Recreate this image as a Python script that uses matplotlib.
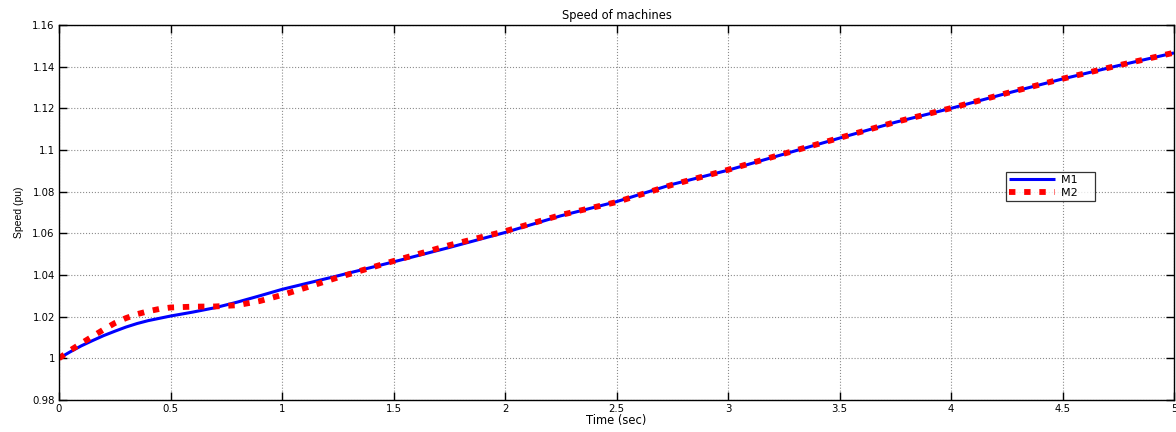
import matplotlib
matplotlib.use("Agg")
import matplotlib.pyplot as plt

# Data
t_m1 = [0.0, 0.05, 0.1, 0.15, 0.2, 0.25, 0.3, 0.35, 0.4, 0.5, 0.6, 0.7, 0.8, 0.9, 1.0,
        1.25, 1.5, 1.75, 2.0, 2.25, 2.5, 2.75, 3.0, 3.25, 3.5, 3.75, 4.0, 4.25, 4.5, 4.75, 5.0]
v_m1 = [1.0000, 1.0031, 1.0060, 1.0085, 1.0109, 1.0130, 1.0150, 1.0167, 1.0181, 1.0203,
        1.0222, 1.0243, 1.0270, 1.0300, 1.0331, 1.0396, 1.0463, 1.0532, 1.0604, 1.0684,
        1.0752, 1.0835, 1.0903, 1.0980, 1.1057, 1.1133, 1.1200, 1.1272, 1.1341, 1.1405, 1.1466]

t_m2 = [0.0, 0.05, 0.1, 0.15, 0.2, 0.25, 0.3, 0.35, 0.4, 0.45, 0.5, 0.6, 0.7, 0.8, 0.9, 1.0,
        1.1, 1.25, 1.5, 1.75, 2.0, 2.25, 2.5, 2.75, 3.0, 3.25, 3.5, 3.75, 4.0, 4.25, 4.5,
        4.75, 5.0]
v_m2 = [1.0000, 1.0038, 1.0072, 1.0105, 1.0138, 1.0169, 1.0193, 1.0212, 1.0226, 1.0237,
        1.0244, 1.0248, 1.0249, 1.0255, 1.0275, 1.0304, 1.0337, 1.0388, 1.0467, 1.0543,
        1.0610, 1.0688, 1.0750, 1.0833, 1.0905, 1.0982, 1.1058, 1.1134, 1.1201, 1.1273,
        1.1342, 1.1406, 1.1467]

x_ticks = [0, 0.5, 1, 1.5, 2, 2.5, 3, 3.5, 4, 4.5, 5]
x_tick_labels = ["0", "0.5", "1", "1.5", "2", "2.5", "3", "3.5", "4", "4.5", "5"]
y_ticks = [0.98, 1.0, 1.02, 1.04, 1.06, 1.08, 1.1, 1.12, 1.14, 1.16]
y_tick_labels = ["0.98", "1", "1.02", "1.04", "1.06", "1.08", "1.1", "1.12", "1.14", "1.16"]

plt.rcParams['font.family'] = ['DejaVu Sans']

fig = plt.figure(figsize=(11.76, 4.32), dpi=100)
ax = fig.add_axes([59/1176, 32/432, (1174-59)/1176, (400-25)/432])

ax.plot(t_m1, v_m1, color='#0000ff', lw=2.2, label='M1', solid_capstyle='butt')
ax.plot(t_m2, v_m2, color='#ff0000', lw=4.2, linestyle=(0, (1.1, 1.5)),
        dash_capstyle='butt', label='M2')

ax.set_xlim(0, 5)
ax.set_ylim(0.98, 1.16)
ax.set_xticks(x_ticks)
ax.set_xticklabels(x_tick_labels)
ax.set_yticks(y_ticks)
ax.set_yticklabels(y_tick_labels)
ax.tick_params(direction='in', length=6, width=1, top=True, right=True,
               labelsize=7.3, pad=3, colors='black')
ax.grid(True, color='#8c8c8c', linestyle=':', linewidth=0.8)
for s in ax.spines.values():
    s.set_linewidth(1.0)
    s.set_color('black')

ax.set_title('Speed of machines', fontsize=8.3, pad=4)
ax.set_xlabel('Time (sec)', fontsize=8.3, labelpad=0)
ax.set_ylabel('Speed (pu)', fontsize=7.5, labelpad=6, family='Liberation Sans')

leg = ax.legend(loc='lower left', bbox_to_anchor=(0.849, 0.531), fontsize=8,
                frameon=True, fancybox=False, handlelength=4.1, borderpad=0.3,
                labelspacing=0.2, handletextpad=0.6, borderaxespad=0)
leg.get_frame().set_edgecolor('black')
leg.get_frame().set_linewidth(0.9)
for txt in leg.get_texts():
    txt.set_text(txt.get_text() + "    ")

fig.savefig('out.png', dpi=100)
